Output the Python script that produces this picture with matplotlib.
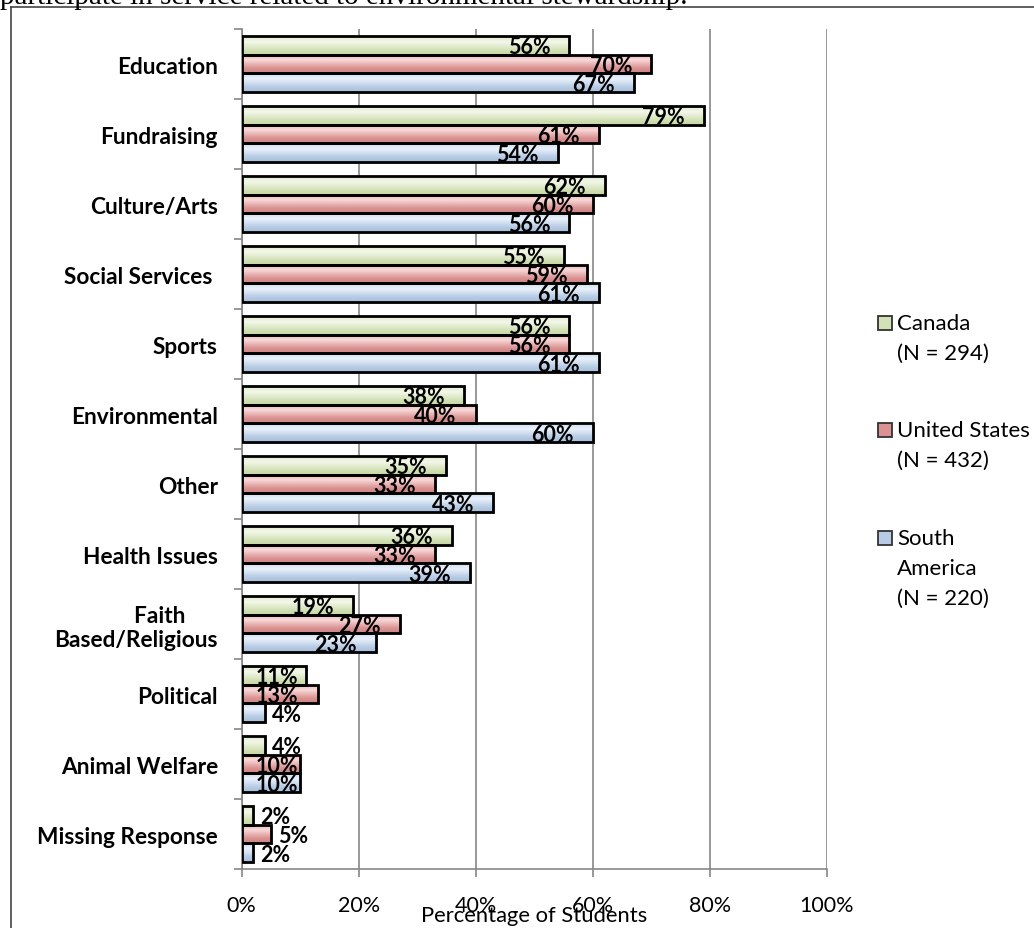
import matplotlib
matplotlib.use("Agg")
import matplotlib.pyplot as plt
import numpy as np
from matplotlib.patches import Rectangle
from matplotlib.lines import Line2D
from matplotlib.colors import to_rgb
import matplotlib.transforms as mtrans

# ---------------- data ----------------
categories = ["Education", "Fundraising", "Culture/Arts", "Social Services ", "Sports",
              "Environmental", "Other", "Health Issues", "Faith      \nBased/Religious",
              "Political", "Animal Welfare", "Missing Response"]
canada = [56, 79, 62, 55, 56, 38, 35, 36, 19, 11, 4, 2]
united_states = [70, 61, 60, 59, 56, 40, 33, 33, 27, 13, 10, 5]
south_america = [67, 54, 56, 61, 61, 60, 43, 39, 23, 4, 10, 2]
series_labels = ["Canada\n(N = 294)", "United States\n(N = 432)", "South\nAmerica\n(N = 220)"]
xticks = [0, 20, 40, 60, 80, 100]
xtick_labels = ["0%", "20%", "40%", "60%", "80%", "100%"]
x_title = "Percentage of Students"
top_text = "participate in service related to environmental stewardship."

# ---------------- style ----------------
W, H = 1034, 929
FONT = "Lato"
base_cols = ["#D3E1B6", "#DA9392", "#B7CBE4"]
light_cols = ["#F3F7EA", "#F8D9D9", "#EAF2FB"]
dark_cols = ["#C5D6A3", "#CE8684", "#A8BFDC"]

fig = plt.figure(figsize=(W / 100, H / 100), dpi=100)
ax_l, ax_r, ax_t, ax_b = 241.5, 827, 30, 870
ax = fig.add_axes([ax_l / W, (H - ax_b) / H, (ax_r - ax_l) / W, (ax_b - ax_t) / H])

n = len(categories)
y = np.arange(n)
bh = 0.267
series = [canada, united_states, south_america]
offsets = [-bh, 0, bh]

px_per_unit = (ax_r - ax_l) / 100.0
shadow_tr = mtrans.ScaledTranslation(2 / 100, -2 / 100, fig.dpi_scale_trans)

for s, (vals, off) in enumerate(zip(series, offsets)):
    bars = ax.barh(y + off, vals, height=bh, facecolor="none", edgecolor="black",
                   linewidth=2.0, zorder=4)
    c0 = np.array(to_rgb(light_cols[s]))
    c1 = np.array(to_rgb(base_cols[s]))
    c2 = np.array(to_rgb(dark_cols[s]))
    t = np.linspace(0, 1, 40)
    grad = np.zeros((40, 1, 3))
    for i, tt in enumerate(t):
        if tt < 0.3:
            grad[i, 0] = c1 + (c0 - c1) * (tt / 0.3) ** 0.5
        else:
            k = (tt - 0.3) / 0.7
            grad[i, 0] = c0 + (c1 - c0) * min(1, k * 1.6) if k < 0.62 else c1 + (c2 - c1) * (k - 0.62) / 0.38
    for b, v in zip(bars, vals):
        x0, y0 = b.get_x(), b.get_y()
        w, h = b.get_width(), b.get_height()
        ax.add_patch(Rectangle((x0, y0), w, h, facecolor="#7f7f7f", alpha=0.35,
                               edgecolor="none", zorder=2.5,
                               transform=ax.transData + shadow_tr))
        im = ax.imshow(grad, extent=[x0, x0 + w, y0 + h, y0], aspect="auto",
                       interpolation="bilinear", zorder=3)
        im.set_clip_path(b)
        lab = f"{v}%"
        if v < 8:
            ax.annotate(lab, xy=(v, y0 + h / 2), xytext=(7, -8), textcoords="offset pixels",
                        ha="left", va="baseline", fontsize=15.5, fontweight="bold",
                        family=FONT, zorder=6)
        else:
            xr = max(v - 19 / px_per_unit, 57 / px_per_unit)
            ax.annotate(lab, xy=(xr, y0 + h / 2), xytext=(0, -8), textcoords="offset pixels",
                        ha="right", va="baseline", fontsize=15.5, fontweight="bold",
                        family=FONT, zorder=6)

ax.set_xlim(0, 100)
ax.set_ylim(n - 0.5, -0.5)
ax.set_xticks(xticks)
ax.set_xticklabels(xtick_labels, fontsize=15.5, family=FONT)
ax.set_yticks(y)
ax.set_yticklabels(categories, fontsize=16.3, fontweight="bold", family=FONT)
ax.set_yticks(np.arange(n + 1) - 0.5, minor=True)
ax.tick_params(axis="y", which="major", length=0, pad=17)
ax.tick_params(axis="y", which="minor", length=6, width=1.2, color="#868686")
ax.tick_params(axis="x", which="major", length=6, width=1.2, color="#868686", pad=13)
for sp in ["top", "right"]:
    ax.spines[sp].set_visible(False)
for sp in ["left", "bottom"]:
    ax.spines[sp].set_color("#868686")
    ax.spines[sp].set_linewidth(1.2)
ax.xaxis.grid(True, color="#868686", linewidth=1.2, zorder=1)
ax.set_axisbelow(True)

ax.set_xlabel(x_title, fontsize=15.8, family=FONT)
ax.xaxis.set_label_coords(0.5, (H - 922 - (H - ax_b)) / (ax_b - ax_t))
ax.xaxis.label.set_va("baseline")

# ---------------- legend (manual) ----------------
leg_y = [324, 431, 539]
line_pitch = 30
for s, (lab, ly) in enumerate(zip(series_labels, leg_y)):
    fig.patches.append(Rectangle((878 / W, (H - ly - 7) / H), 14 / W, 14 / H,
                                 facecolor=base_cols[s], edgecolor="#333333", linewidth=1.3,
                                 transform=fig.transFigure, figure=fig))
    for j, line in enumerate(lab.split("\n")):
        fig.text(897 / W, (H - ly - j * line_pitch) / H, line, fontsize=16, family=FONT,
                 ha="left", va="center")

# ---------------- frame and cut-off text ----------------
fig.add_artist(Line2D([11 / W, 11 / W], [0, (H - 8) / H], color="#444444", linewidth=1.2,
                      transform=fig.transFigure))
fig.add_artist(Line2D([11 / W, 1], [(H - 8) / H, (H - 8) / H], color="#444444", linewidth=1.2,
                      transform=fig.transFigure))
fig.text(0, (H - 4) / H, top_text, family="Liberation Serif", fontsize=21, ha="left",
         va="baseline")

fig.savefig("out.png", dpi=100)
